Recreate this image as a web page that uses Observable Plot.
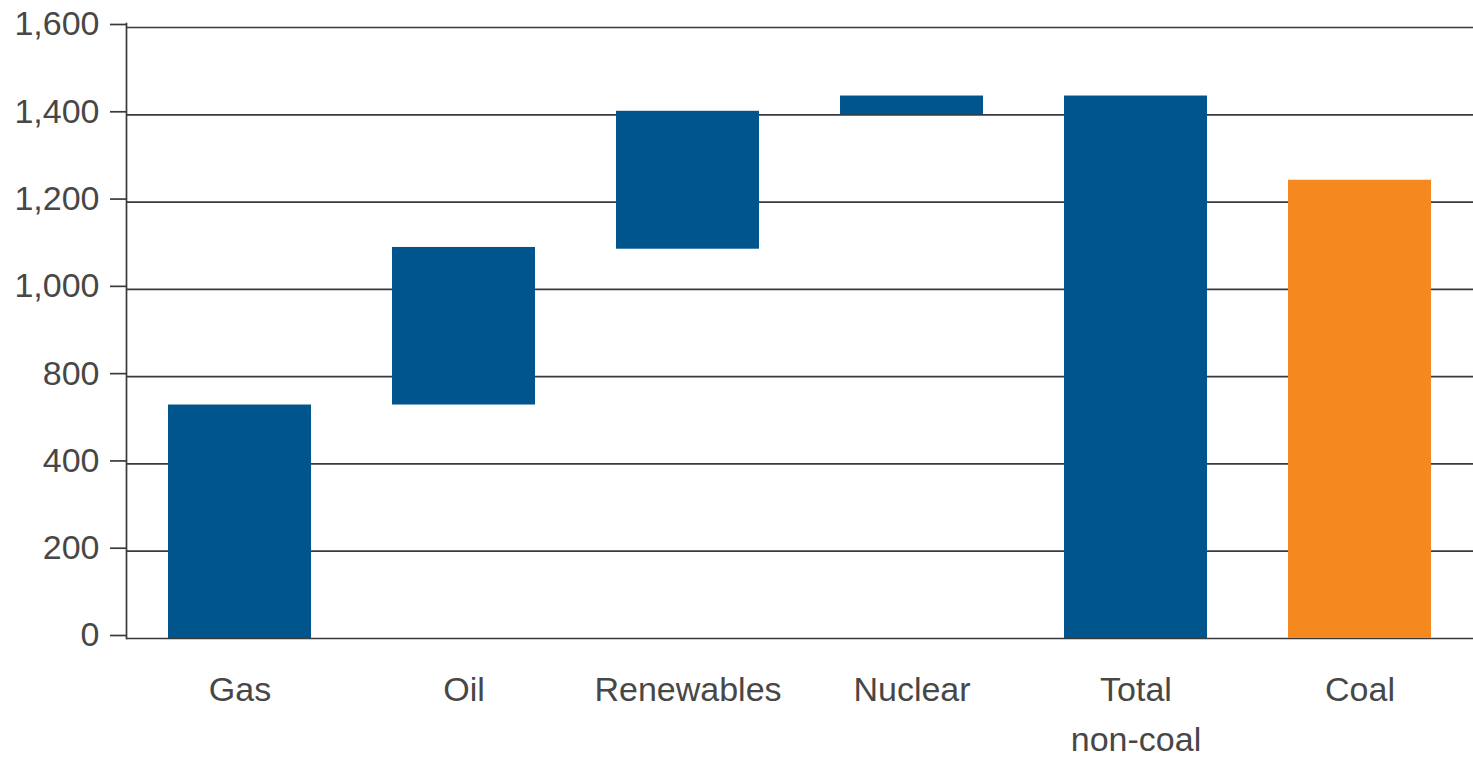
<!DOCTYPE html>
<html>
<head>
<meta charset="utf-8">
<script src="https://cdn.jsdelivr.net/npm/d3@7"></script>
<script src="https://cdn.jsdelivr.net/npm/@observablehq/plot@0.6"></script>
<style>
  html, body { margin: 0; padding: 0; background: #fff; }
</style>
</head>
<body>
<div id="chart"></div>
<script>
// Waterfall of non-coal sources building up to a total, next to coal.
const categories = ["Gas", "Oil", "Renewables", "Nuclear", "Total\nnon-coal", "Coal"];
const barLow  = [0,   670,  1092, 1400, 0,    0];
const barHigh = [670, 1096, 1408, 1443, 1443, 1250];
const group   = ["non-coal", "non-coal", "non-coal", "non-coal", "non-coal", "coal"];

// Tick labels on the value axis (equally spaced gridlines).
const yTicks = [0, 200, 400, 800, 1000, 1200, 1400, 1600];

const data = categories.map((c, i) => ({
  category: c, low: barLow[i], high: barHigh[i], group: group[i]
}));

const width = 1473, height = 758;
const marginTop = 23, marginBottom = 120, marginLeft = 126, marginRight = 0;
const yBottomPx = height - marginBottom, yTopPx = marginTop + 4;
// one evenly spaced position per labelled gridline (piecewise linear scale)
const yRange = yTicks.map((_, i) => yBottomPx + (yTopPx - yBottomPx) * i / (yTicks.length - 1));

const ink = "#3a3a3a";
const textColor = "#474747";

const chart = Plot.plot({
  width, height, marginTop, marginBottom, marginLeft, marginRight,
  style: {fontFamily: "'Liberation Sans', Arial, sans-serif", fontSize: "34px", color: textColor, background: "#fff"},
  x: {domain: categories, paddingInner: 0.36, paddingOuter: 0.18, label: null},
  y: {type: "linear", domain: yTicks, range: yRange, label: null},
  color: {domain: ["non-coal", "coal"], range: ["#00558c", "#f5881f"]},
  marks: [
    Plot.gridY(yTicks, {stroke: ink, strokeOpacity: 1, strokeWidth: 1.7}),
    Plot.barY(data, {x: "category", y1: "low", y2: "high", fill: "group"}),
    Plot.frame({anchor: "left", stroke: ink, strokeWidth: 1.7}),
    Plot.axisY({ticks: yTicks, tickSize: 16, tickPadding: 11, tickFormat: d3.format(","),
                stroke: ink, strokeWidth: 1.7, dy: -3, fill: textColor, label: null}),
    Plot.axisX({tickSize: 0, tickPadding: 27, lineHeight: 1.47, fill: textColor, label: null})
  ]
});

document.getElementById("chart").appendChild(chart);
</script>
</body>
</html>
